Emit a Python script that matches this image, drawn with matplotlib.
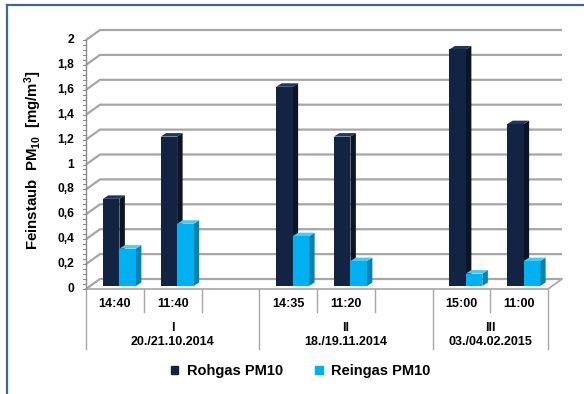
import matplotlib
matplotlib.use("Agg")
import matplotlib.pyplot as plt
import matplotlib.patches as patches
from matplotlib.lines import Line2D
import numpy as np

plt.rcParams['font.family'] = ['Liberation Sans', 'DejaVu Sans']
plt.rcParams['font.weight'] = 'bold'
plt.rcParams['mathtext.fontset'] = 'custom'
plt.rcParams['mathtext.default'] = 'regular'

# data
times = ["14:40", "11:40", "", "14:35", "11:20", "", "15:00", "11:00"]
rohgas = [0.7, 1.2, np.nan, 1.6, 1.2, np.nan, 1.9, 1.3]
reingas = [0.3, 0.5, np.nan, 0.4, 0.2, np.nan, 0.1, 0.2]
groups = ["I\n20./21.10.2014", "II\n18./19.11.2014", "III\n03./04.02.2015"]
group_spans = [(0, 3), (3, 6), (6, 8)]
yticks = [0, 0.2, 0.4, 0.6, 0.8, 1, 1.2, 1.4, 1.6, 1.8, 2]

c_roh = ("#122441", "#0a1628", "#21365a")   # front, side, top
c_rein = ("#00b0f0", "#0083b5", "#4cc8f5")
grid_c = "#a6a6a6"
frame_c = "#3f6a82"

W, H = 584, 394
fig = plt.figure(figsize=(W / 100, H / 100), dpi=100)
# front face of the 3d box in pixels
L, R, B, T = 86, 548, 289, 40
ax = fig.add_axes([L / W, 1 - B / H, (R - L) / W, (B - T) / H])
n = len(times)
ax.set_xlim(0, n)
ax.set_ylim(0, 2)
ax.axis('off')

# pixel -> data scale
px_x = n / (R - L)
px_y = 2 / (B - T)
dep_x, dep_y = 14 * px_x, 10 * px_y  # wall depth

# back wall gridlines + left wall diagonals
for v in yticks:
    ax.plot([0, dep_x, n + dep_x], [v, v + dep_y, v + dep_y], color=grid_c,
            lw=1.6, clip_on=False, zorder=1, solid_capstyle='butt')
# floor front edge and right edge
ax.plot([0, n, n + dep_x], [0, 0, dep_y], color=grid_c, lw=1.2, clip_on=False, zorder=1)
# left axis line with minor ticks
ax.plot([0, 0], [0, 2], color="#8c8c8c", lw=1, clip_on=False, zorder=2)
for v in np.arange(0, 2.001, 0.04):
    ax.plot([-3 * px_x, 0], [v, v], color="#8c8c8c", lw=0.8, clip_on=False, zorder=2)
for v in yticks:
    lab = ("%g" % v).replace(".", ",")
    ax.text(-12 * px_x, v, lab, ha='right', va='center', fontsize=8.7,
            fontweight='bold', clip_on=False)

# bars with simple 3d faces
bw = 16.5 * px_x
shift = 4.5 * px_x
lift = 3 * px_y
sx, sy = 5.5 * px_x, 3.5 * px_y


def bar3d(x0, v, cols):
    x1 = x0 + bw
    y0 = lift
    y1 = lift + v
    ax.add_patch(patches.Polygon([(x1, y0), (x1 + sx, y0 + sy), (x1 + sx, y1 + sy), (x1, y1)],
                                 closed=True, facecolor=cols[1], edgecolor='none', zorder=3))
    ax.add_patch(patches.Polygon([(x0, y1), (x0 + sx, y1 + sy), (x1 + sx, y1 + sy), (x1, y1)],
                                 closed=True, facecolor=cols[2], edgecolor='none', zorder=3))
    ax.bar(x0, v, width=bw, bottom=y0, align='edge', color=cols[0], zorder=4)


for i in range(n):
    c = i + 0.5 + shift
    if not np.isnan(rohgas[i]):
        bar3d(c - bw, rohgas[i], c_roh)
    if not np.isnan(reingas[i]):
        bar3d(c, reingas[i], c_rein)

# category axis below floor
tr = ax.get_xaxis_transform()
ax_h = B - T
for i in range(n + 1):
    long = any(i == s or i == e for s, e in group_spans)
    y_end = -(60 if long else 23) / ax_h
    ax.plot([i, i], [0, y_end], color="#a6a6a6", lw=1, transform=tr, clip_on=False)
for i, t in enumerate(times):
    ax.text(i + 0.5, -15 / ax_h, t, transform=tr, ha='center', va='center',
            fontsize=9, fontweight='bold')
for (s, e), g in zip(group_spans, groups):
    ax.text((s + e) / 2, -46 / ax_h, g, transform=tr, ha='center', va='center',
            fontsize=9, fontweight='bold', linespacing=1.3)

# y label
fig.text(33 / W, 1 - 160 / H, "Feinstaub  PM$_{10}$  [mg/m$^3$]", rotation=90,
         ha='center', va='center', fontsize=10.8, fontweight='bold')

# legend
handles = [patches.Patch(color=c_roh[0], label="Rohgas PM10"),
           patches.Patch(color=c_rein[0], label="Reingas PM10")]
fig.legend(handles=handles, loc='center', bbox_to_anchor=(301 / W, 1 - 371 / H), ncol=2,
           frameon=False, handlelength=0.5, handleheight=0.5, handletextpad=0.6,
           columnspacing=2.2, prop={'weight': 'bold', 'size': 10.5})

# outer frame (top and left visible)
fig.add_artist(Line2D([6.5 / W, 6.5 / W], [0, 1 - 4.5 / H], color=frame_c, lw=1.6))
fig.add_artist(Line2D([6.5 / W, 1], [1 - 4.5 / H, 1 - 4.5 / H], color=frame_c, lw=1.6))

fig.savefig("out.png", dpi=100)
